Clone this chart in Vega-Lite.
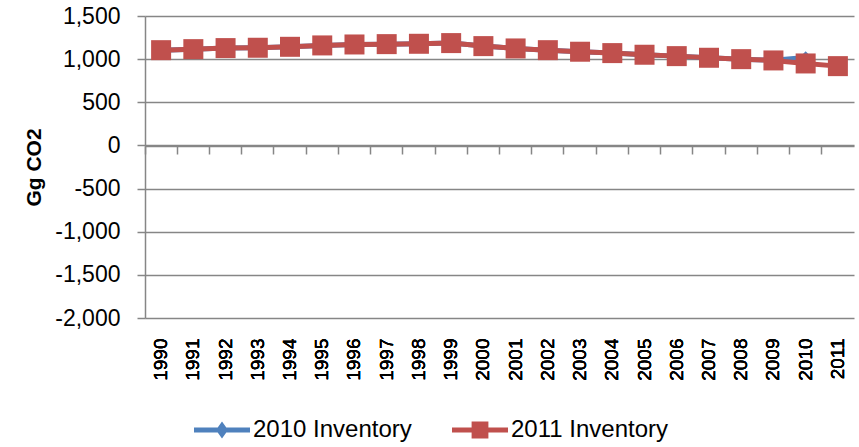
{
  "$schema": "https://vega.github.io/schema/vega-lite/v6.json",
  "width": 709,
  "height": 302,
  "autosize": {"type": "none"},
  "padding": {"left": 145, "top": 16, "right": 5, "bottom": 129},
  "config": {"font": "Liberation Sans", "view": {"stroke": null}},
  "data": {
    "values": [
      {"year": "1990", "series": "2010 Inventory", "value": 1104},
      {"year": "1991", "series": "2010 Inventory", "value": 1116},
      {"year": "1992", "series": "2010 Inventory", "value": 1128},
      {"year": "1993", "series": "2010 Inventory", "value": 1132},
      {"year": "1994", "series": "2010 Inventory", "value": 1143},
      {"year": "1995", "series": "2010 Inventory", "value": 1159},
      {"year": "1996", "series": "2010 Inventory", "value": 1170},
      {"year": "1997", "series": "2010 Inventory", "value": 1174},
      {"year": "1998", "series": "2010 Inventory", "value": 1178},
      {"year": "1999", "series": "2010 Inventory", "value": 1186},
      {"year": "2000", "series": "2010 Inventory", "value": 1151},
      {"year": "2001", "series": "2010 Inventory", "value": 1124},
      {"year": "2002", "series": "2010 Inventory", "value": 1104},
      {"year": "2003", "series": "2010 Inventory", "value": 1086},
      {"year": "2004", "series": "2010 Inventory", "value": 1070},
      {"year": "2005", "series": "2010 Inventory", "value": 1051},
      {"year": "2006", "series": "2010 Inventory", "value": 1035},
      {"year": "2007", "series": "2010 Inventory", "value": 1016},
      {"year": "2008", "series": "2010 Inventory", "value": 1000},
      {"year": "2009", "series": "2010 Inventory", "value": 987},
      {"year": "2010", "series": "2010 Inventory", "value": 1020},
      {"year": "1990", "series": "2011 Inventory", "value": 1104},
      {"year": "1991", "series": "2011 Inventory", "value": 1116},
      {"year": "1992", "series": "2011 Inventory", "value": 1128},
      {"year": "1993", "series": "2011 Inventory", "value": 1132},
      {"year": "1994", "series": "2011 Inventory", "value": 1143},
      {"year": "1995", "series": "2011 Inventory", "value": 1159},
      {"year": "1996", "series": "2011 Inventory", "value": 1170},
      {"year": "1997", "series": "2011 Inventory", "value": 1174},
      {"year": "1998", "series": "2011 Inventory", "value": 1178},
      {"year": "1999", "series": "2011 Inventory", "value": 1186},
      {"year": "2000", "series": "2011 Inventory", "value": 1151},
      {"year": "2001", "series": "2011 Inventory", "value": 1124},
      {"year": "2002", "series": "2011 Inventory", "value": 1104},
      {"year": "2003", "series": "2011 Inventory", "value": 1086},
      {"year": "2004", "series": "2011 Inventory", "value": 1070},
      {"year": "2005", "series": "2011 Inventory", "value": 1051},
      {"year": "2006", "series": "2011 Inventory", "value": 1035},
      {"year": "2007", "series": "2011 Inventory", "value": 1016},
      {"year": "2008", "series": "2011 Inventory", "value": 1000},
      {"year": "2009", "series": "2011 Inventory", "value": 985},
      {"year": "2010", "series": "2011 Inventory", "value": 950},
      {"year": "2011", "series": "2011 Inventory", "value": 919}
    ]
  },
  "encoding": {
    "x": {
      "field": "year",
      "type": "ordinal",
      "scale": {"type": "band", "paddingInner": 0, "paddingOuter": 0},
      "axis": {
        "orient": "bottom",
        "labelAngle": -90,
        "labelFontSize": 19,
        "labelColor": "black",
        "ticks": false,
        "domain": false,
        "grid": false,
        "labelPadding": 20,
        "title": null
      }
    },
    "y": {
      "field": "value",
      "type": "quantitative",
      "scale": {"domain": [-2000, 1500], "nice": false, "zero": false},
      "axis": {
        "values": [-2000, -1500, -1000, -500, 0, 500, 1000, 1500],
        "labelExpr": "replace(format(datum.value, ',.0f'), '\u2212', '-')",
        "grid": true,
        "gridColor": "#868686",
        "gridWidth": 1.5,
        "tickSize": 8,
        "tickColor": "#868686",
        "tickWidth": 1.5,
        "domainColor": "#868686",
        "domainWidth": 1.5,
        "labelFontSize": 23,
        "labelColor": "black",
        "labelPadding": 17,
        "title": "Gg CO2",
        "titleFontSize": 21,
        "titleFontWeight": "bold",
        "titleColor": "black",
        "titlePadding": 10
      }
    }
  },
  "layer": [
    {
      "transform": [{"filter": "datum.series === '2010 Inventory'"}],
      "mark": {"type": "line", "strokeWidth": 5, "color": "#4F81BD"},
      "encoding": {
        "x": {
          "field": "year",
          "type": "ordinal",
          "scale": {"type": "band", "paddingInner": 0, "paddingOuter": 0},
          "axis": {
            "orient": "bottom",
            "offset": -172,
            "labels": false,
            "ticks": true,
            "tickSize": 8,
            "tickColor": "#868686",
            "tickWidth": 1.5,
            "bandPosition": 0,
            "domain": true,
            "domainColor": "#868686",
            "domainWidth": 1.5,
            "grid": false,
            "title": null
          }
        }
      }
    },
    {
      "transform": [{"filter": "datum.series === '2010 Inventory'"}],
      "mark": {"type": "point", "shape": "diamond", "filled": true, "size": 150, "color": "#4F81BD", "opacity": 1}
    },
    {
      "transform": [{"filter": "datum.series === '2011 Inventory'"}],
      "mark": {"type": "line", "strokeWidth": 5, "color": "#C0504D"}
    },
    {
      "transform": [{"filter": "datum.series === '2011 Inventory'"}],
      "mark": {"type": "point", "shape": "square", "filled": true, "size": 400, "color": "#C0504D", "opacity": 1}
    },
    {
      "transform": [{"filter": "datum.value > 100000"}],
      "mark": {"type": "point", "filled": true},
      "encoding": {
        "color": {
          "field": "series",
          "type": "nominal",
          "scale": {"domain": ["2010 Inventory", "2011 Inventory"], "range": ["#4F81BD", "#C0504D"]},
          "legend": {
            "orient": "none",
            "legendX": 49,
            "legendY": 386,
            "direction": "horizontal",
            "title": null,
            "symbolSize": 3136,
            "symbolStrokeWidth": 0,
            "symbolOpacity": 1,
            "labelFontSize": 24,
            "labelColor": "black",
            "labelOffset": 3,
            "columnPadding": 40
          }
        },
        "shape": {
          "field": "series",
          "type": "nominal",
          "scale": {
            "domain": ["2010 Inventory", "2011 Inventory"],
            "range": [
              "M-1,-0.09L-0.154,-0.09L0,-0.3L0.154,-0.09L1,-0.09L1,0.09L0.154,0.09L0,0.3L-0.154,0.09L-1,0.09Z",
              "M-1,-0.09L-0.3,-0.09L-0.3,-0.3L0.3,-0.3L0.3,-0.09L1,-0.09L1,0.09L0.3,0.09L0.3,0.3L-0.3,0.3L-0.3,0.09L-1,0.09Z"
            ]
          },
          "legend": {
            "orient": "none",
            "legendX": 49,
            "legendY": 386,
            "direction": "horizontal",
            "title": null,
            "symbolSize": 3136,
            "symbolStrokeWidth": 0,
            "symbolOpacity": 1,
            "labelFontSize": 24,
            "labelColor": "black",
            "labelOffset": 3,
            "columnPadding": 40
          }
        }
      }
    }
  ],
  "resolve": {"axis": {"x": "independent"}}
}
